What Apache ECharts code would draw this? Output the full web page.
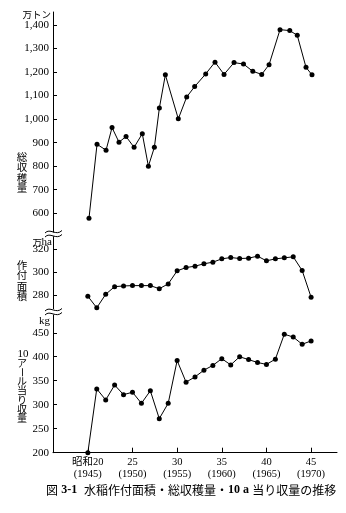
<!DOCTYPE html>
<html>
<head>
<meta charset="utf-8">
<script src="https://cdn.jsdelivr.net/npm/echarts@6/dist/echarts.min.js"></script>
<style>
html,body{margin:0;padding:0;background:#fff;}
#c{width:346px;height:513px;}
</style>
</head>
<body>
<div id="c"></div>
<script>
// ---- data ----
var years = [1945,1946,1947,1948,1949,1950,1951,1952,1953,1954,1955,1956,1957,1958,1959,1960,1961,1962,1963,1964,1965,1966,1967,1968,1969,1970];
// 総収穫量 (万トン) — points as plotted (x)
var harvestYears = [1945.13,1946.03,1947.04,1947.71,1948.49,1949.28,1950.18,1951.1,1951.78,1952.45,1953.01,1953.68,1955.13,1956.07,1956.96,1958.2,1959.24,1960.25,1961.37,1962.43,1963.47,1964.47,1965.29,1966.52,1967.61,1968.45,1969.43,1970.1];
var harvestValues = [579,893,868,964,902,926,880,938,800,880,1047,1188,1001,1094,1138,1192,1242,1190,1240,1234,1203,1190,1231,1380,1376,1356,1220,1188];
// 作付面積 (万ha)
var areaValues = [278.9,268.8,280.6,287.3,287.9,288.2,288.2,288.2,285.5,289.7,301.1,304,305.2,307.3,308.7,311.6,312.8,311.9,312.2,314,309.9,311.6,312.5,313.4,301.4,278];
// 10アール当り収量 (kg)
var yieldValues = [200,333,310,341,321,326,303,329,271,303,392,347,358,372,382,396,383,400,394,388,384,395,447,441,426,433];
// tick labels
var xTickYears = [1945,1950,1955,1960,1965,1970];
var xTickLabels = ['昭和20\n(1945)','25\n(1950)','30\n(1955)','35\n(1960)','40\n(1965)','45\n(1970)'];
var harvestTicks = [600,700,800,900,1000,1100,1200,1300,1400];
var areaTicks = [280,300,320];
var yieldTicks = [200,250,300,350,400,450];

var serif = '"Liberation Serif","Noto Sans CJK JP",serif';
var cjk = '"Noto Sans CJK JP",sans-serif';

function fmt(v){ return String(v).replace(/\B(?=(\d{3})+(?!\d))/g, ','); }

var gridLeft = 53, gridRight = 9;
var grids = [
  {left: gridLeft, right: gridRight, top: 12, height: 220.1},
  {left: gridLeft, right: gridRight, top: 236.7, height: 72},
  {left: gridLeft, right: gridRight, top: 315, height: 137.7}
];
var xMin = 1941.1, xMax = 1972.9;
function xAx(i, show){
  return {
    type: 'value', gridIndex: i, min: xMin, max: xMax, show: show,
    axisLine: {show: show, onZero: false, lineStyle: {color: '#000', width: 1}},
    axisTick: {show: show, inside: true, length: 5, customValues: xTickYears, lineStyle: {color: '#000'}},
    axisLabel: {show: show, customValues: xTickYears, color: '#000', fontSize: 10.5, lineHeight: 11.5,
      fontFamily: serif, margin: 4,
      formatter: function(v){ var k = xTickYears.indexOf(Math.round(v)); return k >= 0 ? xTickLabels[k] : ''; }},
    splitLine: {show: false}
  };
}
function yAx(i, mn, mx, ticks, comma){
  return {
    type: 'value', gridIndex: i, min: mn, max: mx,
    axisLine: {show: true, lineStyle: {color: '#000', width: 1}},
    axisTick: {show: true, inside: true, length: 4, customValues: ticks, lineStyle: {color: '#000'}},
    axisLabel: {customValues: ticks, color: '#000', fontSize: 11, fontFamily: serif, margin: 4,
      formatter: function(v){ return comma ? fmt(v) : String(v); }},
    splitLine: {show: false}
  };
}
function pairs(xs, ys){ return xs.map(function(x, k){ return [x, ys[k]]; }); }
function lineSeries(i, data){
  return {
    type: 'line', xAxisIndex: i, yAxisIndex: i, data: data,
    symbol: 'circle', symbolSize: 5, showSymbol: true, clip: false,
    itemStyle: {color: '#000'}, lineStyle: {color: '#000', width: 1},
    animation: false, silent: true
  };
}

function vtext(chars, x, y0, pitch, size){
  var out = [];
  chars.forEach(function(ch, k){
    var rot = (ch === 'ー');
    out.push({type: 'text', x: x, y: y0 + k * pitch, rotation: rot ? -Math.PI / 2 : 0,
      style: {text: ch, fill: '#000', fontSize: size, fontFamily: cjk, align: 'center', verticalAlign: 'middle'}});
  });
  return out;
}
function brk(y){
  var out = [];
  [0, 4].forEach(function(d){
    out.push({type: 'bezierCurve', shape: {x1: 45, y1: y + d + 1.5, cpx1: 50, cpy1: y + d - 4, cpx2: 56, cpy2: y + d + 5, x2: 62, y2: y + d - 1},
      style: {stroke: '#000', lineWidth: 1, fill: null}});
  });
  return out;
}

var graphic = [];
graphic = graphic.concat(vtext(['総','収','穫','量'], 22, 157, 10.5, 10.5));
graphic = graphic.concat(vtext(['作','付','面','積'], 22, 265, 10.5, 10.5));
graphic.push({type: 'text', x: 23, y: 354, style: {text: '10', fill: '#000', fontSize: 11, fontFamily: serif, align: 'center', verticalAlign: 'middle'}});
graphic = graphic.concat(vtext(['ア','ー','ル','当','り','収','量'], 22, 363, 9.2, 10));
graphic.push({type: 'text', x: 51, y: 14.5, style: {text: '万トン', fill: '#000', fontSize: 9.5, fontFamily: cjk, align: 'right', verticalAlign: 'middle'}});
graphic.push({type: 'text', x: 42, y: 242.5, style: {text: '万', fill: '#000', fontSize: 9.5, fontFamily: cjk, align: 'right', verticalAlign: 'middle'}});
graphic.push({type: 'text', x: 52, y: 242, style: {text: 'ha', fill: '#000', fontSize: 11, fontFamily: serif, align: 'right', verticalAlign: 'middle'}});
graphic.push({type: 'text', x: 50, y: 321, style: {text: 'kg', fill: '#000', fontSize: 11, fontFamily: serif, align: 'right', verticalAlign: 'middle'}});
graphic = graphic.concat(brk(231.5));
graphic = graphic.concat(brk(309.5));
graphic.push({type: 'text', x: 46, y: 490, style: {
  text: '{a|図} {b|3-1}  {a|水稲作付面積・総収穫量・}{c|10 a} {a|当り収量の推移}',
  fill: '#000', align: 'left', verticalAlign: 'middle',
  rich: {
    a: {fontSize: 12, fontFamily: cjk, fill: '#000'},
    b: {fontSize: 12, fontFamily: serif, fontWeight: 'bold', fill: '#000'},
    c: {fontSize: 12, fontFamily: serif, fontWeight: 'bold', fill: '#000'}
  }}});

var chart = echarts.init(document.getElementById('c'), null, {renderer: 'canvas'});
chart.setOption({
  backgroundColor: '#fff',
  animation: false,
  grid: grids,
  xAxis: [xAx(0, false), xAx(1, false), xAx(2, true)],
  yAxis: [yAx(0, 520, 1455, harvestTicks, true), yAx(1, 268, 331, areaTicks, false), yAx(2, 200, 487, yieldTicks, false)],
  series: [
    lineSeries(0, pairs(harvestYears, harvestValues)),
    lineSeries(1, pairs(years, areaValues)),
    lineSeries(2, pairs(years, yieldValues))
  ],
  graphic: graphic
});
</script>
</body>
</html>
